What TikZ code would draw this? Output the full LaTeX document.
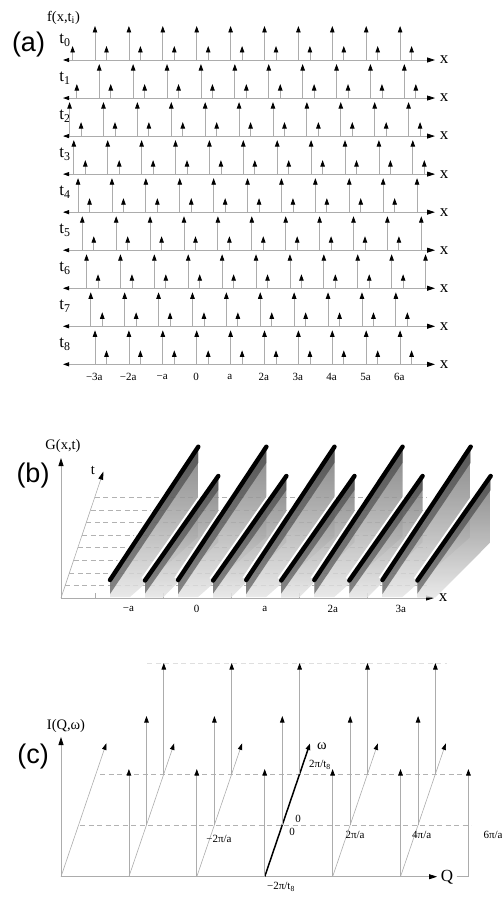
\documentclass[tikz,border=0pt]{standalone}
\usepackage{fontspec}
\setmainfont{Liberation Serif}
\newfontfamily\panelfont{Liberation Sans}
\usetikzlibrary{arrows.meta, calc}

\begin{document}
\begin{tikzpicture}[x=1pt, y=-1pt,
  spike/.style={draw=gray!65, line width=0.8pt, -{Triangle[length=6.5pt,width=4.5pt,color=black]}},
  axisline/.style={draw=gray!65, line width=0.8pt, -{Triangle[length=8pt,width=5pt,color=black]}},
  rowaxis/.style={draw=gray!65, line width=0.8pt,
    {Triangle[length=6pt,width=4pt,color=black]}-{Triangle[length=8pt,width=5pt,color=black]}},
  guide/.style={draw=gray!60, line width=0.6pt, dash pattern=on 5pt off 3.5pt},
  curtain/.style={top color=black!55, bottom color=black!10, fill opacity=0.85},
  curtainband/.style={fill=black!80, fill opacity=0.55},
  ridge/.style={draw=black, line width=4.4pt, line cap=round},
  ridgeglow/.style={draw=white, line width=1.8pt},
  panel/.style={font=\panelfont\fontsize{27}{30}\selectfont},
  ticklbl/.style={font=\fontsize{11}{13}\selectfont},
  biglbl/.style={font=\fontsize{17}{20}\selectfont},
  funclbl/.style={font=\fontsize{14.5}{17}\selectfont},
]
\useasboundingbox (0,0) rectangle (501,899);

%% ============================================================
%% (a)  f(x,t_i): tall and short spikes, shifted a/8 per row
%% ============================================================
\def\rowgap{38.04}
\def\aA{33.9}   % lattice constant a in panel (a)

\node[panel] (labA) at (28.5,44.5) {(a)};
\node[funclbl] (fA) at (63.5,18) {f(x,t\textsubscript{i})};

%% row / first tall x / last tall index / first short x / last short index
\foreach \i/\ts/\tn/\ss/\sn in {0/95/9/72.6/10, 1/99.24/9/76.84/10,
  2/69.58/10/81.08/10, 3/73.81/10/85.31/10, 4/78.05/10/89.55/9,
  5/82.29/10/93.79/9, 6/86.53/10/98.03/9, 7/90.76/9/102.26/9,
  8/95/9/106.5/9} {
  \pgfmathsetmacro\yy{60+\rowgap*\i}
  \draw[rowaxis] (63,\yy) -- (435,\yy);
  \node[biglbl] (t\i) at (65,\yy-20) {t\textsubscript{\i}};
  \node[biglbl] (xA\i) at (444,\yy) {x};
  \foreach \k in {0,...,\tn}
    \draw[spike] (\ts+\aA*\k,\yy) -- ++(0,-34);
  \foreach \k in {0,...,\sn}
    \draw[spike] (\ss+\aA*\k,\yy) -- ++(0,-14);
}

%% ---- tick labels under t_8 ----
\foreach \lbl [count=\n from 0] in {−3a,−2a,−a,0,a,2a,3a,4a,5a,6a}
  \node[ticklbl] (tickA\n) at (94.3+\aA*\n,377) {\lbl};

%% ============================================================
%% (b)  G(x,t): ridges in the (x,t) plane
%% ============================================================
\def\aB{68.1}   % lattice constant a in panel (b)
\coordinate (Ob) at (61,598);

\node[panel] (labB) at (33,476) {(b)};
\node[funclbl] (GB) at (63,446) {G(x,t)};

%% ---- axes ----
\draw[axisline] (Ob) -- (61,458);
\draw[axisline] (Ob) -- (434,598);
\draw[axisline, line width=0.6pt] (Ob) -- (103.3,471.7);
\node[funclbl] (tB) at (93,470) {t};
\node[biglbl] (xB) at (443,598) {x};

%% ---- time slices (dashed) ----
\foreach \k in {1,...,8}
  \draw[guide] ({61+4.22*\k},{598-12.6*\k}) -- (427,{598-12.6*\k});

%% ---- ticks and labels ----
\foreach \k in {0,...,4}
  \draw[draw=gray!65, line width=0.8pt] ({95+\aB*\k},598) -- ++(0,-5);
\foreach \lbl [count=\n from 0] in {−a,0,a,2a,3a}
  \node[ticklbl] (tickB\n) at (128.5+\aB*\n,609) {\lbl};

%% ---- ridges: tall then short, left to right ----
\foreach \j in {0,...,4} {
  \coordinate (TB) at ({110+\aB*\j},580);
  \coordinate (TT) at ({198.3+\aB*\j},446.7);
  \coordinate (SB) at ({145+\aB*\j},580.5);
  \coordinate (ST) at ({218.3+\aB*\j},476);
  % tall ridge
  \shade[curtain] (TB) -- (TT) -- ($(TT)+(0,90)$) -- ($(TB)+(20,17)$)
    -- ($(TB)+(0,17)$) -- cycle;
  \fill[curtainband] (TB) -- (TT) -- ($(TT)+(0,16)$) -- ($(TB)+(0,14)$) -- cycle;
  \draw[ridgeglow] ($(TB)+(-2.9,-1.9)$) -- ($(TT)+(-2.9,-1.9)$);
  \draw[ridge] (TB) -- (TT);
  % short ridge
  \shade[curtain] (SB) -- (ST) -- ($(ST)+(0,66)$) -- ($(SB)+(18,17)$)
    -- ($(SB)+(0,17)$) -- cycle;
  \fill[curtainband] (SB) -- (ST) -- ($(ST)+(0,14)$) -- ($(SB)+(0,13)$) -- cycle;
  \draw[ridgeglow] ($(SB)+(-2.9,-1.9)$) -- ($(ST)+(-2.9,-1.9)$);
  \draw[ridge] (SB) -- (ST);
}

%% ============================================================
%% (c)  I(Q,omega): spikes on slanted omega axes
%% ============================================================
\def\aC{67.9}   % 2 pi / a in panel (c)
\coordinate (Oc) at (61,876.7);

\node[panel] (labC) at (33,757) {(c)};
\node[funclbl] (IC) at (66,726) {I(Q,ω)};

%% ---- dashed omega levels ----
\draw[guide, draw=gray!25] (147,663) -- (447,663);
\draw[guide] (100,774) -- (473,774);
\draw[guide] (80,825) -- (471,825);

%% ---- axes ----
\draw[axisline] (Oc) -- (61,737);
\draw[axisline] (Oc) -- (437,876.7);
\node[biglbl] (QC) at (447,877) {Q};
\draw[draw=gray!65, line width=0.8pt] (QC.east |- Oc) -- ({61+\aC*6},876.7);

%% slanted omega axes, the one through Q=0 drawn thick
\foreach \n in {0,...,5}
  \coordinate (w\n) at ({61+\aC*\n},876.7);
\foreach \n in {0,1,2,4,5}
  \draw[spike, line width=0.6pt] (w\n) -- ++(45.3,-133.3);
\draw[spike, draw=black, line width=1.5pt] (w3) -- ++(45.3,-133.3);

%% ---- spikes at three omega levels ----
\foreach \n in {1,...,6}
  \draw[spike] ({61+\aC*\n},876.7) -- ++(0,-107.7);
\foreach \n in {1,...,5} {
  \draw[spike] ({78.6+\aC*\n},825) -- ++(0,-109);
  \draw[spike] ({95.9+\aC*\n},774) -- ++(0,-111);
}

%% ---- labels ----
\node[funclbl] (omC) at (322,746) {ω};
\node[ticklbl] (wTop) at (320,765) {2π/t\textsubscript{8}};
\node[ticklbl] (wZero) at (298,819) {0};
\node[ticklbl] (qZero) at (292,832) {0};
\node[ticklbl] (wLow) at (281,887) {−2π/t\textsubscript{8}};
\node[ticklbl] (qM1) at (219,839) {−2π/a};
\node[ticklbl] (qP1) at (355,835) {2π/a};
\node[ticklbl] (qP2) at (421.7,835) {4π/a};
\node[ticklbl, anchor=west] (qP3) at (480,835) {6π/a};

\end{tikzpicture}
\end{document}
